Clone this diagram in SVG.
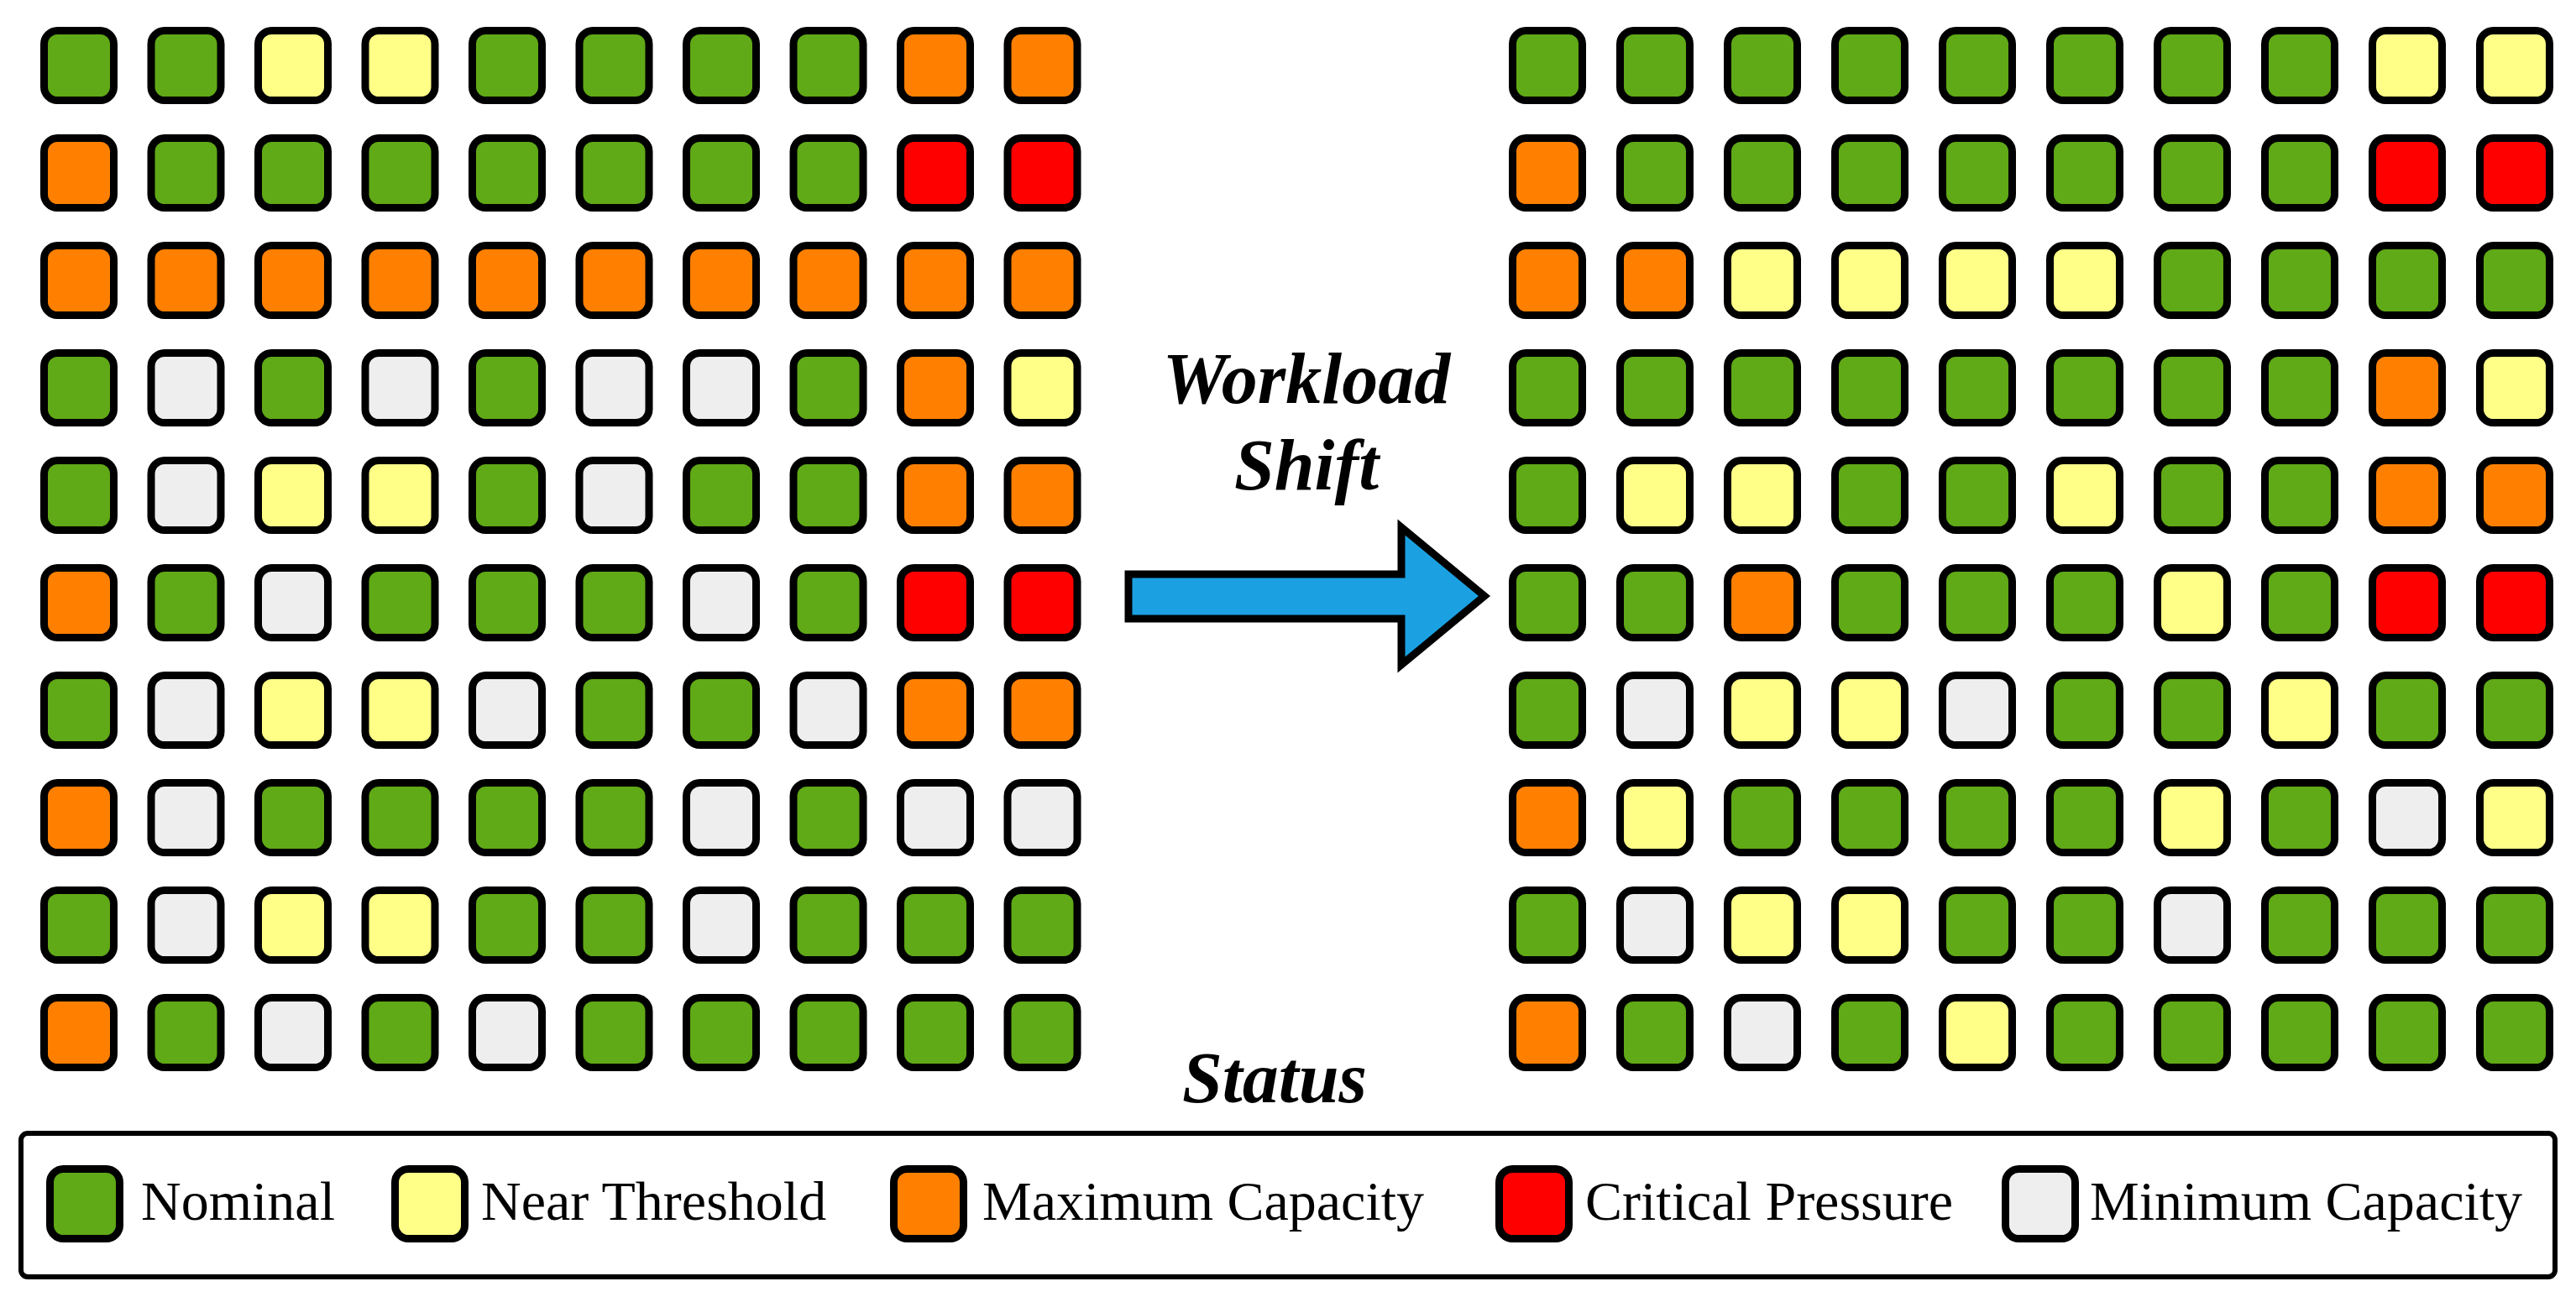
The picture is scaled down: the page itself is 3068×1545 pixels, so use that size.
<svg xmlns="http://www.w3.org/2000/svg" xmlns:xlink="http://www.w3.org/1999/xlink" width="3068" height="1545" viewBox="0 0 3068 1545">
<style>
rect.c{stroke:#000;stroke-width:9;width:83px;height:83px}
.G{fill:#60A917}.Y{fill:#FFFF88}.O{fill:#FF8000}.R{fill:#FF0000}.W{fill:#EEEEEE}
.t{font-family:"Liberation Serif",serif;font-weight:bold;font-style:italic;font-size:86px;text-anchor:middle}
.l{font-family:"Liberation Serif",serif;font-size:66px}
</style>
<rect width="3068" height="1545" fill="#fff"/>
<g id="left-grid">
<g transform="translate(52.5,36.5)">
<rect class="c G" x="0" y="0" rx="16"/><rect class="c G" x="127.5" y="0" rx="16"/><rect class="c Y" x="255" y="0" rx="16"/><rect class="c Y" x="382.5" y="0" rx="16"/><rect class="c G" x="510" y="0" rx="16"/><rect class="c G" x="637.5" y="0" rx="16"/><rect class="c G" x="765" y="0" rx="16"/><rect class="c G" x="892.5" y="0" rx="16"/><rect class="c O" x="1020" y="0" rx="16"/><rect class="c O" x="1147.5" y="0" rx="16"/>
<rect class="c O" x="0" y="128" rx="16"/><rect class="c G" x="127.5" y="128" rx="16"/><rect class="c G" x="255" y="128" rx="16"/><rect class="c G" x="382.5" y="128" rx="16"/><rect class="c G" x="510" y="128" rx="16"/><rect class="c G" x="637.5" y="128" rx="16"/><rect class="c G" x="765" y="128" rx="16"/><rect class="c G" x="892.5" y="128" rx="16"/><rect class="c R" x="1020" y="128" rx="16"/><rect class="c R" x="1147.5" y="128" rx="16"/>
<rect class="c O" x="0" y="256" rx="16"/><rect class="c O" x="127.5" y="256" rx="16"/><rect class="c O" x="255" y="256" rx="16"/><rect class="c O" x="382.5" y="256" rx="16"/><rect class="c O" x="510" y="256" rx="16"/><rect class="c O" x="637.5" y="256" rx="16"/><rect class="c O" x="765" y="256" rx="16"/><rect class="c O" x="892.5" y="256" rx="16"/><rect class="c O" x="1020" y="256" rx="16"/><rect class="c O" x="1147.5" y="256" rx="16"/>
<rect class="c G" x="0" y="384" rx="16"/><rect class="c W" x="127.5" y="384" rx="16"/><rect class="c G" x="255" y="384" rx="16"/><rect class="c W" x="382.5" y="384" rx="16"/><rect class="c G" x="510" y="384" rx="16"/><rect class="c W" x="637.5" y="384" rx="16"/><rect class="c W" x="765" y="384" rx="16"/><rect class="c G" x="892.5" y="384" rx="16"/><rect class="c O" x="1020" y="384" rx="16"/><rect class="c Y" x="1147.5" y="384" rx="16"/>
<rect class="c G" x="0" y="512" rx="16"/><rect class="c W" x="127.5" y="512" rx="16"/><rect class="c Y" x="255" y="512" rx="16"/><rect class="c Y" x="382.5" y="512" rx="16"/><rect class="c G" x="510" y="512" rx="16"/><rect class="c W" x="637.5" y="512" rx="16"/><rect class="c G" x="765" y="512" rx="16"/><rect class="c G" x="892.5" y="512" rx="16"/><rect class="c O" x="1020" y="512" rx="16"/><rect class="c O" x="1147.5" y="512" rx="16"/>
<rect class="c O" x="0" y="640" rx="16"/><rect class="c G" x="127.5" y="640" rx="16"/><rect class="c W" x="255" y="640" rx="16"/><rect class="c G" x="382.5" y="640" rx="16"/><rect class="c G" x="510" y="640" rx="16"/><rect class="c G" x="637.5" y="640" rx="16"/><rect class="c W" x="765" y="640" rx="16"/><rect class="c G" x="892.5" y="640" rx="16"/><rect class="c R" x="1020" y="640" rx="16"/><rect class="c R" x="1147.5" y="640" rx="16"/>
<rect class="c G" x="0" y="768" rx="16"/><rect class="c W" x="127.5" y="768" rx="16"/><rect class="c Y" x="255" y="768" rx="16"/><rect class="c Y" x="382.5" y="768" rx="16"/><rect class="c W" x="510" y="768" rx="16"/><rect class="c G" x="637.5" y="768" rx="16"/><rect class="c G" x="765" y="768" rx="16"/><rect class="c W" x="892.5" y="768" rx="16"/><rect class="c O" x="1020" y="768" rx="16"/><rect class="c O" x="1147.5" y="768" rx="16"/>
<rect class="c O" x="0" y="896" rx="16"/><rect class="c W" x="127.5" y="896" rx="16"/><rect class="c G" x="255" y="896" rx="16"/><rect class="c G" x="382.5" y="896" rx="16"/><rect class="c G" x="510" y="896" rx="16"/><rect class="c G" x="637.5" y="896" rx="16"/><rect class="c W" x="765" y="896" rx="16"/><rect class="c G" x="892.5" y="896" rx="16"/><rect class="c W" x="1020" y="896" rx="16"/><rect class="c W" x="1147.5" y="896" rx="16"/>
<rect class="c G" x="0" y="1024" rx="16"/><rect class="c W" x="127.5" y="1024" rx="16"/><rect class="c Y" x="255" y="1024" rx="16"/><rect class="c Y" x="382.5" y="1024" rx="16"/><rect class="c G" x="510" y="1024" rx="16"/><rect class="c G" x="637.5" y="1024" rx="16"/><rect class="c W" x="765" y="1024" rx="16"/><rect class="c G" x="892.5" y="1024" rx="16"/><rect class="c G" x="1020" y="1024" rx="16"/><rect class="c G" x="1147.5" y="1024" rx="16"/>
<rect class="c O" x="0" y="1152" rx="16"/><rect class="c G" x="127.5" y="1152" rx="16"/><rect class="c W" x="255" y="1152" rx="16"/><rect class="c G" x="382.5" y="1152" rx="16"/><rect class="c W" x="510" y="1152" rx="16"/><rect class="c G" x="637.5" y="1152" rx="16"/><rect class="c G" x="765" y="1152" rx="16"/><rect class="c G" x="892.5" y="1152" rx="16"/><rect class="c G" x="1020" y="1152" rx="16"/><rect class="c G" x="1147.5" y="1152" rx="16"/>
</g>
</g>
<g id="right-grid">
<g transform="translate(1801.5,36.5)">
<rect class="c G" x="0" y="0" rx="16"/><rect class="c G" x="128" y="0" rx="16"/><rect class="c G" x="256" y="0" rx="16"/><rect class="c G" x="384" y="0" rx="16"/><rect class="c G" x="512" y="0" rx="16"/><rect class="c G" x="640" y="0" rx="16"/><rect class="c G" x="768" y="0" rx="16"/><rect class="c G" x="896" y="0" rx="16"/><rect class="c Y" x="1024" y="0" rx="16"/><rect class="c Y" x="1152" y="0" rx="16"/>
<rect class="c O" x="0" y="128" rx="16"/><rect class="c G" x="128" y="128" rx="16"/><rect class="c G" x="256" y="128" rx="16"/><rect class="c G" x="384" y="128" rx="16"/><rect class="c G" x="512" y="128" rx="16"/><rect class="c G" x="640" y="128" rx="16"/><rect class="c G" x="768" y="128" rx="16"/><rect class="c G" x="896" y="128" rx="16"/><rect class="c R" x="1024" y="128" rx="16"/><rect class="c R" x="1152" y="128" rx="16"/>
<rect class="c O" x="0" y="256" rx="16"/><rect class="c O" x="128" y="256" rx="16"/><rect class="c Y" x="256" y="256" rx="16"/><rect class="c Y" x="384" y="256" rx="16"/><rect class="c Y" x="512" y="256" rx="16"/><rect class="c Y" x="640" y="256" rx="16"/><rect class="c G" x="768" y="256" rx="16"/><rect class="c G" x="896" y="256" rx="16"/><rect class="c G" x="1024" y="256" rx="16"/><rect class="c G" x="1152" y="256" rx="16"/>
<rect class="c G" x="0" y="384" rx="16"/><rect class="c G" x="128" y="384" rx="16"/><rect class="c G" x="256" y="384" rx="16"/><rect class="c G" x="384" y="384" rx="16"/><rect class="c G" x="512" y="384" rx="16"/><rect class="c G" x="640" y="384" rx="16"/><rect class="c G" x="768" y="384" rx="16"/><rect class="c G" x="896" y="384" rx="16"/><rect class="c O" x="1024" y="384" rx="16"/><rect class="c Y" x="1152" y="384" rx="16"/>
<rect class="c G" x="0" y="512" rx="16"/><rect class="c Y" x="128" y="512" rx="16"/><rect class="c Y" x="256" y="512" rx="16"/><rect class="c G" x="384" y="512" rx="16"/><rect class="c G" x="512" y="512" rx="16"/><rect class="c Y" x="640" y="512" rx="16"/><rect class="c G" x="768" y="512" rx="16"/><rect class="c G" x="896" y="512" rx="16"/><rect class="c O" x="1024" y="512" rx="16"/><rect class="c O" x="1152" y="512" rx="16"/>
<rect class="c G" x="0" y="640" rx="16"/><rect class="c G" x="128" y="640" rx="16"/><rect class="c O" x="256" y="640" rx="16"/><rect class="c G" x="384" y="640" rx="16"/><rect class="c G" x="512" y="640" rx="16"/><rect class="c G" x="640" y="640" rx="16"/><rect class="c Y" x="768" y="640" rx="16"/><rect class="c G" x="896" y="640" rx="16"/><rect class="c R" x="1024" y="640" rx="16"/><rect class="c R" x="1152" y="640" rx="16"/>
<rect class="c G" x="0" y="768" rx="16"/><rect class="c W" x="128" y="768" rx="16"/><rect class="c Y" x="256" y="768" rx="16"/><rect class="c Y" x="384" y="768" rx="16"/><rect class="c W" x="512" y="768" rx="16"/><rect class="c G" x="640" y="768" rx="16"/><rect class="c G" x="768" y="768" rx="16"/><rect class="c Y" x="896" y="768" rx="16"/><rect class="c G" x="1024" y="768" rx="16"/><rect class="c G" x="1152" y="768" rx="16"/>
<rect class="c O" x="0" y="896" rx="16"/><rect class="c Y" x="128" y="896" rx="16"/><rect class="c G" x="256" y="896" rx="16"/><rect class="c G" x="384" y="896" rx="16"/><rect class="c G" x="512" y="896" rx="16"/><rect class="c G" x="640" y="896" rx="16"/><rect class="c Y" x="768" y="896" rx="16"/><rect class="c G" x="896" y="896" rx="16"/><rect class="c W" x="1024" y="896" rx="16"/><rect class="c Y" x="1152" y="896" rx="16"/>
<rect class="c G" x="0" y="1024" rx="16"/><rect class="c W" x="128" y="1024" rx="16"/><rect class="c Y" x="256" y="1024" rx="16"/><rect class="c Y" x="384" y="1024" rx="16"/><rect class="c G" x="512" y="1024" rx="16"/><rect class="c G" x="640" y="1024" rx="16"/><rect class="c W" x="768" y="1024" rx="16"/><rect class="c G" x="896" y="1024" rx="16"/><rect class="c G" x="1024" y="1024" rx="16"/><rect class="c G" x="1152" y="1024" rx="16"/>
<rect class="c O" x="0" y="1152" rx="16"/><rect class="c G" x="128" y="1152" rx="16"/><rect class="c W" x="256" y="1152" rx="16"/><rect class="c G" x="384" y="1152" rx="16"/><rect class="c Y" x="512" y="1152" rx="16"/><rect class="c G" x="640" y="1152" rx="16"/><rect class="c G" x="768" y="1152" rx="16"/><rect class="c G" x="896" y="1152" rx="16"/><rect class="c G" x="1024" y="1152" rx="16"/><rect class="c G" x="1152" y="1152" rx="16"/>
</g>
</g>
<g id="connectors">
<path d="M1344,684 H1669 V628 L1768,710 L1669,792 V737 H1344 Z" fill="#1BA1E2" stroke="#000" stroke-width="9" stroke-linejoin="miter"/>
</g>
<g id="labels">
<text class="t" x="1556" y="480">Workload</text>
<text class="t" x="1556" y="583">Shift</text>
<text class="t" x="1518" y="1313">Status</text>
</g>
<g id="legend">
<rect x="25" y="1350" width="3018" height="171" fill="#fff" stroke="#000" stroke-width="6" rx="8"/>
<rect class="c G" x="59.5" y="1392.5" rx="16"/><text class="l" x="168" y="1453">Nominal</text>
<rect class="c Y" x="470.5" y="1392.5" rx="16"/><text class="l" x="573" y="1453">Near Threshold</text>
<rect class="c O" x="1064.5" y="1392.5" rx="16"/><text class="l" x="1170" y="1453">Maximum Capacity</text>
<rect class="c R" x="1785.5" y="1392.5" rx="16"/><text class="l" x="1888" y="1453">Critical Pressure</text>
<rect class="c W" x="2388.5" y="1392.5" rx="16"/><text class="l" x="2489" y="1453">Minimum Capacity</text>
</g>
</svg>
